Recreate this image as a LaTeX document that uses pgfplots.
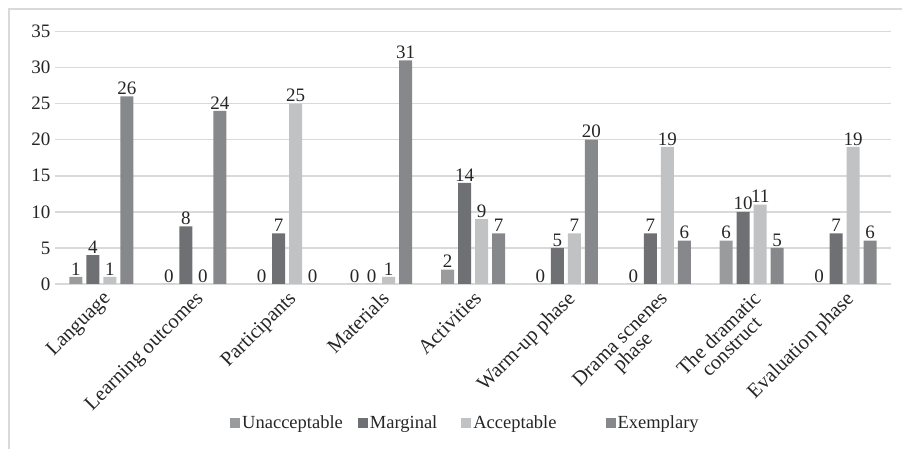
\documentclass[border=0pt]{standalone}
\usepackage{pgfplots}
\pgfplotsset{compat=1.18}
\usepackage{fontspec}
\setmainfont{Liberation Serif}
\definecolor{cU}{HTML}{9A9B9D}
\definecolor{cM}{HTML}{6F7073}
\definecolor{cA}{HTML}{C1C2C4}
\definecolor{cE}{HTML}{87888C}
\definecolor{gridc}{HTML}{D9D9D9}
\definecolor{txt}{HTML}{262626}
\begin{document}
\begin{tikzpicture}
\begin{axis}[
  at={(55pt,165pt)}, anchor=south west,
  scale only axis, width=836pt, height=252.5pt,
  ymin=0, ymax=35, ytick={0,5,...,35},
  xmin=-0.5, xmax=8.5, xtick={0,...,8},
  xticklabels={Language, Learning outcomes, Participants, Materials, Activities, Warm-up phase, {Drama scnenes\\phase}, {The dramatic\\construct}, Evaluation phase},
  xticklabel style={rotate=45, anchor=north east, align=center, font=\fontsize{20.5}{18}\selectfont, inner sep=1pt, text=txt},
  yticklabel style={font=\fontsize{19}{19}\selectfont, text=txt, xshift=-1pt},
  /pgf/number format/assume math mode=true,
  ybar=4pt, bar width=13pt,
  ymajorgrids, grid style={gridc, line width=1.5pt},
  axis x line*=bottom, axis y line*=left,
  x axis line style={gridc, line width=1.5pt, -},
  y axis line style={draw=none},
  tick style={draw=none},
  nodes near coords,
  every node near coord/.append style={font=\fontsize{19}{19}\selectfont, text=txt, inner sep=1.5pt},
  legend columns=4,
  legend style={at={(0.491,-0.55)}, anchor=center, draw=none, fill=none,
    font=\fontsize{18.5}{18.5}\selectfont, text=txt,
    /tikz/every even column/.append style={column sep=0pt},
    /tikz/every odd column/.append style={column sep=0pt}},
  legend image code/.code={\fill[#1] (0pt,-5pt) rectangle (10pt,5pt);},
]
\addplot[fill=cU, draw=none] coordinates {(0,1) (1,0) (2,0) (3,0) (4,2) (5,0) (6,0) (7,6) (8,0)};
\addplot[fill=cM, draw=none] coordinates {(0,4) (1,8) (2,7) (3,0) (4,14) (5,5) (6,7) (7,10) (8,7)};
\addplot[fill=cA, draw=none] coordinates {(0,1) (1,0) (2,25) (3,1) (4,9) (5,7) (6,19) (7,11) (8,19)};
\addplot[fill=cE, draw=none] coordinates {(0,26) (1,24) (2,0) (3,31) (4,7) (5,20) (6,6) (7,5) (8,6)};
\legend{Unacceptable\hspace{13pt}\null, Marginal\hspace{22pt}\null, Acceptable\hspace{47pt}\null, Exemplary}
\end{axis}
\draw[gridc, line width=1.5pt] (9pt,-20pt) rectangle (960pt,440pt);
\pgfresetboundingbox
\useasboundingbox (0pt,0pt) rectangle (902pt,449pt);
\end{tikzpicture}
\end{document}
